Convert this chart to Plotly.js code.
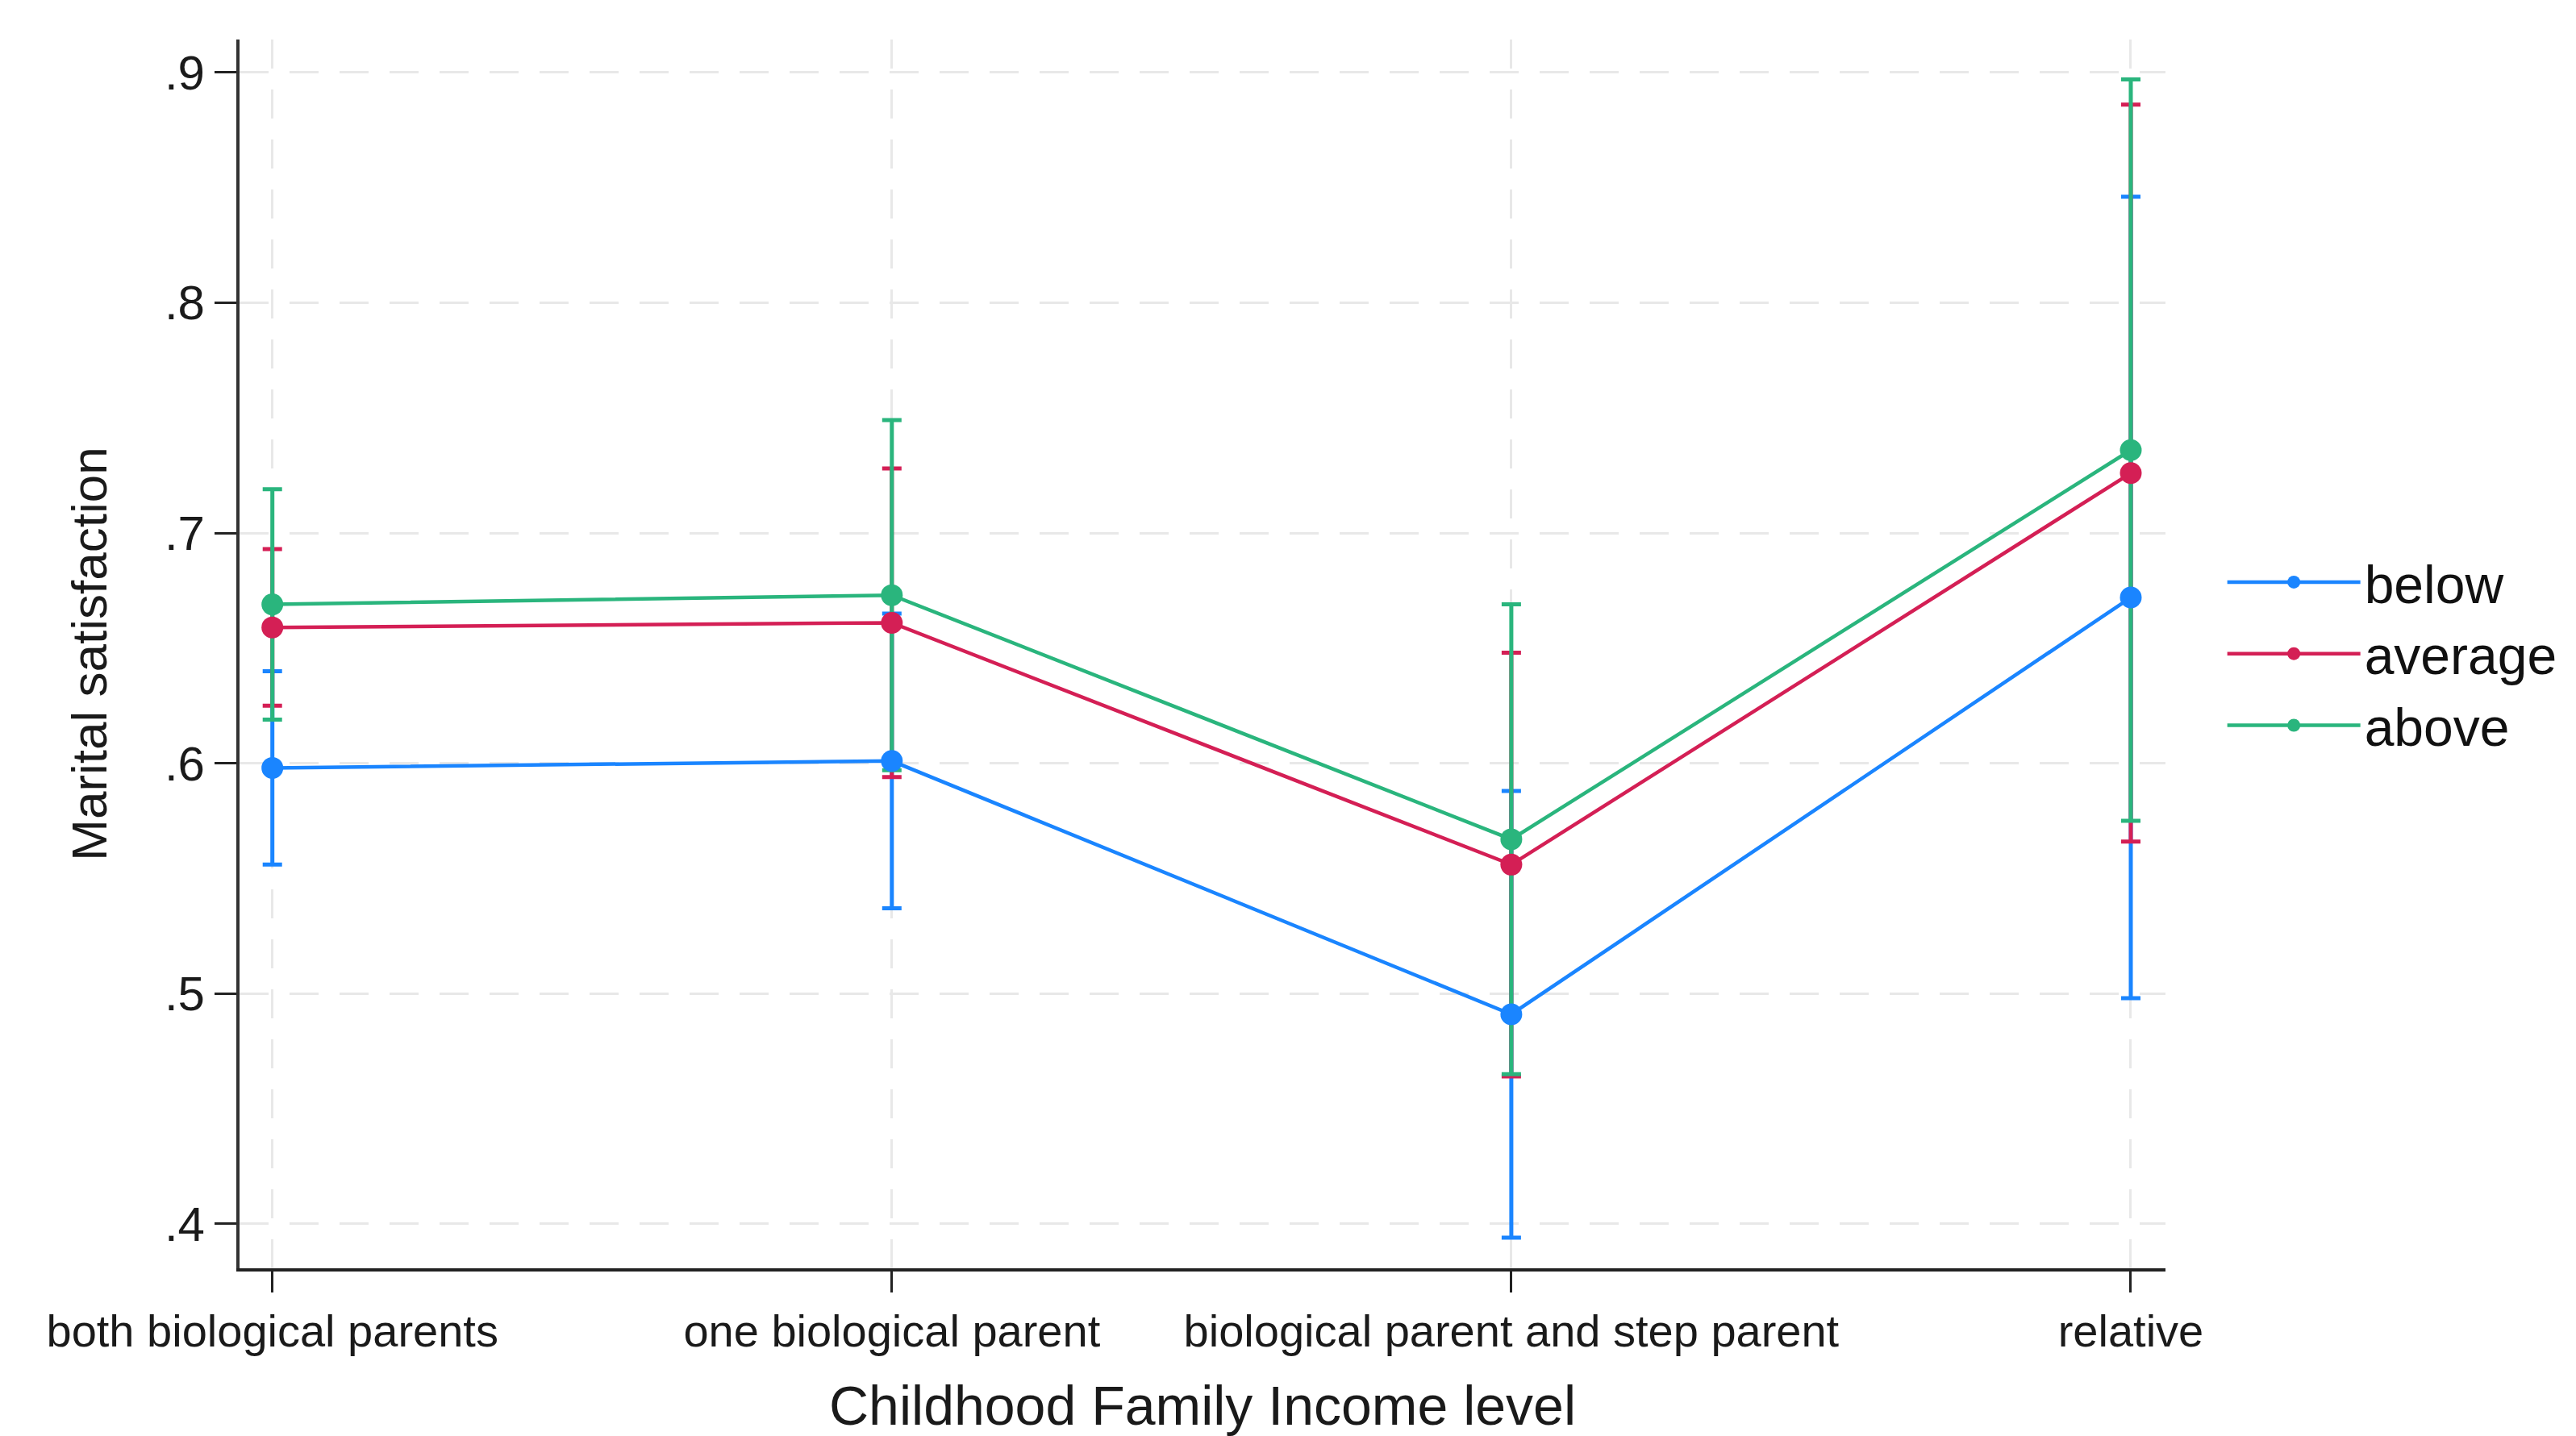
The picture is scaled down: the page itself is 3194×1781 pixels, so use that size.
<!DOCTYPE html>
<html>
<head>
<meta charset="utf-8">
<script src="https://cdn.plot.ly/plotly-3.0.1.min.js"></script>
<style>
  html, body { margin: 0; padding: 0; background: #ffffff; }
  #chart { width: 3194px; height: 1781px; }
</style>
</head>
<body>
<div id="chart"></div>
<script>
// ---- data ----
const categories = ['both biological parents', 'one biological parent', 'biological parent and step parent', 'relative'];
const seriesNames = ['below', 'average', 'above'];
const belowMean = [0.598, 0.601, 0.491, 0.672];
const belowErr  = [0.042, 0.064, 0.097, 0.174];
const averageMean = [0.659, 0.661, 0.556, 0.726];
const averageErr  = [0.034, 0.067, 0.092, 0.160];
const aboveMean = [0.669, 0.673, 0.567, 0.736];
const aboveErr  = [0.050, 0.076, 0.102, 0.161];
const yTickVals = [0.4, 0.5, 0.6, 0.7, 0.8, 0.9];
const yTickText = ['.4', '.5', '.6', '.7', '.8', '.9'];
const xTitle = 'Childhood Family Income level';
const yTitle = 'Marital satisfaction';

const colors = ['#1a85ff', '#d41f55', '#2ab57d'];
const means = [belowMean, averageMean, aboveMean];
const errs = [belowErr, averageErr, aboveErr];

const FONT = '"Liberation Sans", Arial, Helvetica, sans-serif';
const traces = [];
// error bars first (drawn underneath)
for (let i = 0; i < 3; i++) {
  traces.push({
    type: 'scatter', mode: 'markers', x: categories, y: means[i],
    marker: { size: 1, color: 'rgba(0,0,0,0)' },
    error_y: { type: 'data', array: errs[i], visible: true, color: colors[i], thickness: 5, width: 12 },
    showlegend: false, hoverinfo: 'skip'
  });
}
// connected lines with markers
for (let i = 0; i < 3; i++) {
  traces.push({
    type: 'scatter', mode: 'lines+markers', name: seriesNames[i], x: categories, y: means[i],
    line: { color: colors[i], width: 4.5 },
    marker: { color: colors[i], size: 27 }
  });
}

const layout = {
  width: 3194, height: 1781,
  paper_bgcolor: '#ffffff', plot_bgcolor: '#ffffff',
  margin: { l: 297, r: 509, t: 49, b: 208, pad: 0 },
  font: { family: FONT, color: '#1a1a1a' },
  showlegend: true,
  legend: {
    x: 1.030, xanchor: 'left', y: 0.5, yanchor: 'middle',
    font: { family: FONT, size: 66, color: '#111111' },
    itemwidth: 165, tracegroupgap: 0, bgcolor: 'rgba(0,0,0,0)'
  },
  xaxis: {
    type: 'category', categoryorder: 'array', categoryarray: categories,
    range: [-0.053, 3.056],
    showline: true, linecolor: '#222222', linewidth: 4, mirror: false,
    ticks: 'outside', ticklen: 26, tickwidth: 3, tickcolor: '#222222',
    tickfont: { family: FONT, size: 56, color: '#1a1a1a' },
    showgrid: true, gridcolor: '#e8e8e8', gridwidth: 3, griddash: '36px,26px',
    zeroline: false,
    title: { text: xTitle, font: { family: FONT, size: 68, color: '#1a1a1a' }, standoff: 53 }
  },
  yaxis: {
    range: [0.3807, 0.9143],
    tickvals: yTickVals, ticktext: yTickText,
    showline: true, linecolor: '#333333', linewidth: 4,
    ticks: 'outside', ticklen: 27, tickwidth: 3, tickcolor: '#222222',
    tickfont: { family: FONT, size: 60, color: '#1a1a1a' },
    showgrid: true, gridcolor: '#e8e8e8', gridwidth: 3, griddash: '36px,26px',
    zeroline: false,
    title: { text: yTitle, font: { family: FONT, size: 62, color: '#1a1a1a' }, standoff: 52 }
  }
};

Plotly.newPlot('chart', traces, layout, { staticPlot: true, displayModeBar: false });
</script>
</body>
</html>
